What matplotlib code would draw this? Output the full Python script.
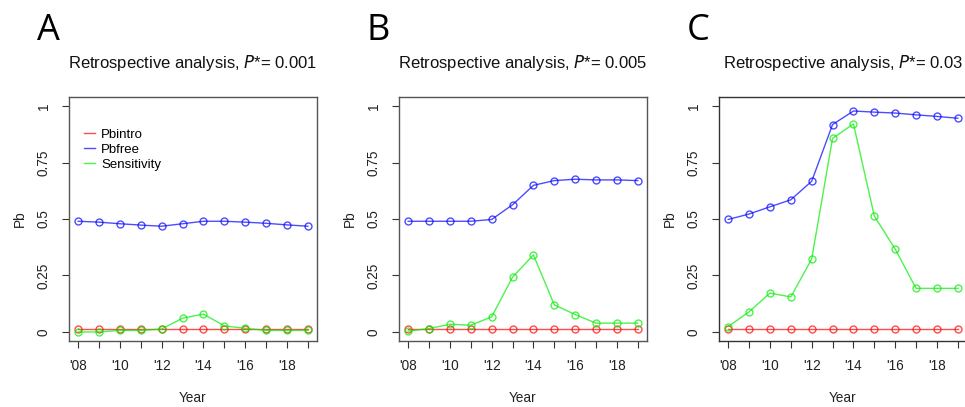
import numpy as np
import matplotlib
matplotlib.use("Agg")
import matplotlib.pyplot as plt

years = list(range(2008, 2020))
xtick_years = [2008, 2010, 2012, 2014, 2016, 2018]
xtick_labels = ["'08", "'10", "'12", "'14", "'16", "'18"]
ytick_vals = [0, 0.25, 0.5, 0.75, 1]
ytick_labels = ["0", "0.25", "0.5", "0.75", "1"]

panel_letters = ["A", "B", "C"]
p_values = ["0.001", "0.005", "0.03"]

# Pbintro
intro_a = [0.013] * 12
intro_b = [0.013] * 12
intro_c = [0.011] * 12
# Pbfree
free_a = [0.490, 0.486, 0.479, 0.473, 0.468, 0.479, 0.490, 0.490, 0.486, 0.481, 0.474, 0.468]
free_b = [0.490, 0.490, 0.490, 0.490, 0.498, 0.563, 0.649, 0.670, 0.676, 0.673, 0.673, 0.670]
free_c = [0.498, 0.522, 0.554, 0.585, 0.667, 0.918, 0.978, 0.973, 0.969, 0.961, 0.954, 0.946]
# Sensitivity
sens_a = [0.000, 0.000, 0.007, 0.007, 0.013, 0.061, 0.079, 0.027, 0.016, 0.007, 0.007, 0.007]
sens_b = [0.004, 0.015, 0.034, 0.030, 0.067, 0.243, 0.341, 0.120, 0.077, 0.039, 0.039, 0.039]
sens_c = [0.024, 0.089, 0.172, 0.155, 0.323, 0.857, 0.921, 0.513, 0.367, 0.193, 0.193, 0.193]

intro = [intro_a, intro_b, intro_c]
free = [free_a, free_b, free_c]
sens = [sens_a, sens_b, sens_c]

plt.rcParams['font.family'] = ['Liberation Sans', 'DejaVu Sans']

fig = plt.figure(figsize=(9.65, 4.07), dpi=100)
W, H = 965.0, 407.0
lefts = [69, 399, 719]

for i in range(3):
    ax = fig.add_axes([lefts[i] / W, (H - 341) / H, 248 / W, 244 / H])
    ax.plot(years, intro[i], color='red', alpha=0.7, lw=1, marker='o', ms=5,
            mfc='none', mew=1, label='Pbintro')
    ax.plot(years, free[i], color='blue', alpha=0.7, lw=1, marker='o', ms=5,
            mfc='none', mew=1, label='Pbfree')
    ax.plot(years, sens[i], color='#00ee00', alpha=0.7, lw=1, marker='o', ms=5,
            mfc='none', mew=1, label='Sensitivity')
    ax.set_xlim(2007.56, 2019.44)
    ax.set_ylim(-0.04, 1.04)
    ax.set_xticks(years)
    ax.set_xticklabels([xtick_labels[xtick_years.index(y)] if y in xtick_years else "" for y in years])
    ax.set_yticks(ytick_vals)
    ax.set_yticklabels(ytick_labels, rotation=90, va='center')
    ax.tick_params(direction='out', length=5, width=0.8, color='#333333',
                   labelsize=9.8, pad=8, labelcolor='#222222')
    for sp in ax.spines.values():
        sp.set_color('#333333' if i == 2 else '#555555')
        sp.set_linewidth(1)
    ax.set_xlabel("Year", fontsize=9.8, color='#222222')
    ax.set_ylabel("Pb", fontsize=9.8, color='#222222')
    ax.xaxis.set_label_coords(0.5, -0.205)
    ax.yaxis.set_label_coords(-0.17, 0.5)
    ax.set_title("Retrospective analysis, $\\it{P}$*= " + p_values[i],
                 fontsize=12, pad=21, color='#111111')
    fig.text((lefts[i] - 32) / W, 1 - 31 / H, panel_letters[i], fontsize=26,
             family=['Open Sans', 'DejaVu Sans'], va='center', ha='left')
    if i == 0:
        leg = ax.legend(loc='upper left', bbox_to_anchor=(0.06, 0.87), frameon=False,
                        fontsize=9.5, handlelength=0.85, handletextpad=0.45,
                        labelspacing=0.2, borderpad=0, borderaxespad=0)
        for h in leg.legend_handles:
            h.set_marker('')

fig.savefig("out.png", dpi=100)
